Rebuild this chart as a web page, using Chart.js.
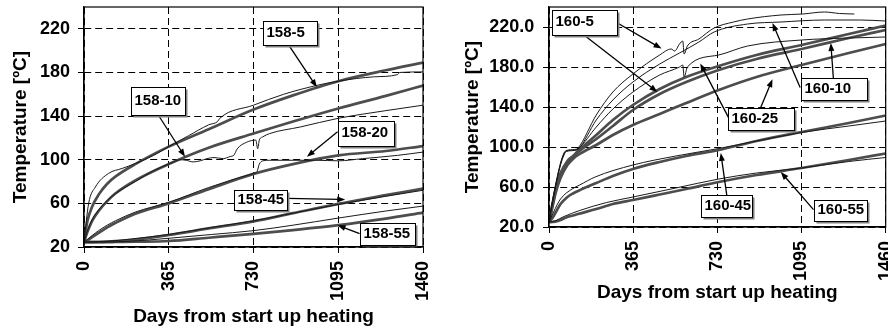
<!DOCTYPE html>
<html>
<head>
<meta charset="utf-8">
<script src="https://cdn.jsdelivr.net/npm/chart.js@4"></script>
<style>
  html, body { margin: 0; padding: 0; background: #fff; overflow: hidden; }
  canvas { position: absolute; top: 0; }
</style>
</head>
<body>
<canvas id="left" width="444" height="329" style="left:0;width:444px;height:329px"></canvas>
<canvas id="right" width="444" height="329" style="left:444px;width:444px;height:329px"></canvas>
<script>
// ---- data: days from start up heating / temperature in ºC ----
const xTicks = [0, 365, 730, 1095, 1460];
const yTicks = [20, 60, 100, 140, 180, 220];

// Borehole 158, model curves (thick)
const days158Model = [0, 15, 35, 63, 100, 135, 221, 365, 537, 730, 900, 1095, 1300, 1460];
const t158_5Model  = [24.5, 44, 57, 68, 78, 84.5, 96, 112, 128, 146, 159, 172, 182, 189];
const t158_10Model = [24.5, 34, 44, 53, 62, 69, 81, 96, 111, 124, 135, 147, 158.5, 168];
const t158_20Model = [24.5, 26, 29, 33, 38, 42, 50.5, 60, 73, 87, 96, 104, 108, 112.5];
const t158_45Model = [24.5, 24.5, 24.5, 24.6, 24.9, 25.3, 26.8, 31, 37, 43.5, 51, 59.5, 67.5, 73.5];
const t158_55Model = [24.5, 24.5, 24.5, 24.5, 24.5, 24.6, 24.8, 25.5, 28.5, 32, 35.5, 40, 46, 51.5];

// Borehole 158, measured (thin)
const days158_5  = [0, 20, 49, 106, 164, 221, 300, 365, 450, 537, 575, 585, 730, 860, 1000, 1095, 1250, 1350, 1360, 1460];
const t158_5     = [24.5, 60, 75, 87.5, 92, 96.5, 104, 112, 122, 132, 135, 138, 150, 160, 168, 172, 176, 178, 180, 180.5];
const days158_10 = [0, 15, 35, 63, 100, 135, 221, 300, 365, 414, 440, 470, 500, 530, 560, 600, 630, 645, 660, 700, 740, 748, 755, 770, 800, 931, 1096, 1300, 1460];
const t158_10    = [24.5, 35, 45, 54, 62.5, 69, 80, 90, 96, 100, 99.5, 98, 99, 101, 102, 101, 103, 104, 110, 116, 118, 110, 118, 121, 124, 130, 138, 145, 150];
const days158_20 = [0, 15, 35, 63, 100, 135, 221, 365, 537, 730, 745, 755, 770, 800, 900, 1000, 1095, 1200, 1350, 1460];
const t158_20    = [24.5, 27, 30.5, 35, 40, 44, 52, 61, 74.5, 87.5, 89, 96, 99, 99.5, 99.5, 99.5, 99, 101, 104, 107];
const days158_45 = [0, 100, 200, 365, 550, 730, 900, 1095, 1300, 1460];
const t158_45    = [24.5, 25.2, 27.3, 31.5, 38, 44, 51, 59, 66.5, 72];
const days158_55 = [0, 100, 200, 365, 550, 730, 900, 1095, 1300, 1460];
const t158_55    = [24.5, 24.6, 25.3, 28, 31.5, 35, 40, 46.5, 53, 57.5];

// Borehole 160, model curves (thick)
const days160Model = [0, 15, 30, 50, 80, 104, 126, 205, 277, 364, 480, 595, 736, 900, 1095, 1300, 1460];
const t160_5Model  = [24.7, 43, 59, 74, 86, 91, 96, 112, 127, 142, 158, 170, 181, 192, 202, 213, 221.5];
const t160_10Model = [24.7, 42, 57, 72, 85, 90, 95, 108, 121, 137, 153, 165, 177, 188, 198, 209, 217];
const t160_25Model = [24.7, 40, 55, 69, 82, 88, 92, 102, 112, 122, 133, 144, 157, 170, 182, 194, 203];
const t160_45Model = [24.7, 29, 35, 43, 50, 53.5, 56, 64, 71, 78, 85, 91, 97, 106, 115, 124, 131.5];
const t160_55Model = [24.7, 25, 25.5, 27, 30, 31.5, 33, 38, 43, 47, 52.5, 58, 65, 72, 79, 87, 93.5];

// Borehole 160, measured (thin)
const days160_5  = [0, 15, 30, 50, 65, 75, 110, 126, 205, 277, 364, 480, 530, 545, 566, 580, 586, 600, 650, 716, 800, 861, 1006, 1100, 1194, 1260, 1324];
const t160_5     = [24.7, 46, 64, 84, 94, 96.5, 97.5, 99, 132, 155, 173, 192, 198, 196, 203, 206, 193, 201, 208, 219, 225, 228, 232, 233, 235, 233.5, 233];
const days160_10 = [0, 15, 30, 50, 65, 75, 110, 126, 205, 277, 364, 480, 566, 650, 716, 861, 1006, 1194, 1350, 1460];
const t160_10    = [24.7, 45, 63, 83, 93, 96, 97, 98, 127, 147, 165, 183, 194, 205, 215, 223, 225, 227, 227, 226];
const days160_25 = [0, 15, 30, 50, 65, 75, 110, 126, 205, 277, 364, 480, 566, 580, 586, 600, 736, 861, 1095, 1300, 1460];
const t160_25    = [24.7, 44, 62, 82, 92, 95.5, 96.5, 98, 120, 138, 155, 172, 180, 182, 170, 180, 192, 201, 207, 209, 210];
const days160_45 = [0, 20, 50, 100, 133, 200, 364, 550, 736, 900, 1095, 1300, 1460];
const t160_45    = [24.7, 35, 48, 58, 62, 70, 82, 91, 98.5, 106, 114.5, 121, 126];
const days160_55 = [0, 30, 60, 133, 250, 364, 550, 736, 900, 1095, 1300, 1460];
const t160_55    = [24.7, 26.5, 30, 36.5, 44.5, 50, 59, 68, 74, 79, 85.5, 89.5];

// labelled callouts, in days / ºC
const callouts158 = [
  { text: '158-5',  x0: 773,  x1: 1003, y0: 227.6, y1: 205.3, arrows: [[881, 205.3, 1003, 166.4]] },
  { text: '158-10', x0: 201,  x1: 435,  y0: 166.4, y1: 141,   arrows: [[320, 141, 435, 102.7]] },
  { text: '158-20', x0: 1092, x1: 1333, y0: 135.8, y1: 112.8, arrows: [[1092, 125.6, 960, 102.7]] },
  { text: '158-45', x0: 644,  x1: 876,  y0: 72.7,  y1: 53.7,  arrows: [[876, 64.5, 1125, 63.5]] },
  { text: '158-55', x0: 1187, x1: 1427, y0: 42,    y1: 21.6,  arrows: [[1187, 32.3, 1092, 40]] }
];
const callouts160 = [
  { text: '160-5',  x0: 11,   x1: 297,  y0: 237.4, y1: 211.7, arrows: [[297, 224, 488, 198.4], [153, 211.7, 470, 155]] },
  { text: '160-10', x0: 1092, x1: 1378, y0: 169,   y1: 147.4, arrows: [[1089, 159.4, 969, 224], [1233, 169, 1222, 204]] },
  { text: '160-25', x0: 777,  x1: 1063, y0: 139.4, y1: 117.4, arrows: [[781, 128.4, 656, 183.4], [918, 139.4, 969, 167.7]] },
  { text: '160-45', x0: 659,  x1: 882,  y0: 51.7,  y1: 30,    arrows: [[771, 51.7, 745, 94]] },
  { text: '160-55', x0: 1147, x1: 1378, y0: 47.4,  y1: 26,    arrows: [[1147, 37.4, 1005, 75]] }
];

const FONT = "'Liberation Sans', Arial, Helvetica, sans-serif";

// draws the text boxes with their arrows
const calloutPlugin = {
  id: 'callouts',
  afterDatasetsDraw(chart, args, opts) {
    const ctx = chart.ctx;
    const xs = chart.scales.x, ys = chart.scales.y;
    ctx.save();
    opts.items.forEach(c => {
      // arrows first
      c.arrows.forEach(a => {
        const x1 = xs.getPixelForValue(a[0]), y1 = ys.getPixelForValue(a[1]);
        const x2 = xs.getPixelForValue(a[2]), y2 = ys.getPixelForValue(a[3]);
        const ang = Math.atan2(y2 - y1, x2 - x1);
        const c0 = Math.cos(ang), s0 = Math.sin(ang);
        ctx.strokeStyle = '#000';
        ctx.fillStyle = '#000';
        ctx.lineWidth = 1.3;
        ctx.beginPath();
        ctx.moveTo(x1, y1);
        ctx.lineTo(x2 - 6 * c0, y2 - 6 * s0);
        ctx.stroke();
        ctx.beginPath();
        ctx.moveTo(x2, y2);
        ctx.lineTo(x2 - 8 * c0 + 3 * s0, y2 - 8 * s0 - 3 * c0);
        ctx.lineTo(x2 - 8 * c0 - 3 * s0, y2 - 8 * s0 + 3 * c0);
        ctx.closePath();
        ctx.fill();
      });
      const l = Math.round(xs.getPixelForValue(c.x0)) + 0.5;
      const r = Math.round(xs.getPixelForValue(c.x1)) + 0.5;
      const t = Math.round(ys.getPixelForValue(c.y0)) + 0.5;
      const b = Math.round(ys.getPixelForValue(c.y1)) + 0.5;
      // shadow
      ctx.fillStyle = '#808080';
      ctx.fillRect(l + 2, t + 2, r - l, b - t);
      ctx.fillStyle = '#fff';
      ctx.fillRect(l, t, r - l, b - t);
      ctx.strokeStyle = '#000';
      ctx.lineWidth = 1;
      ctx.strokeRect(l, t, r - l, b - t);
      ctx.fillStyle = '#000';
      ctx.font = 'bold 15px ' + FONT;
      ctx.textAlign = 'left';
      ctx.textBaseline = 'middle';
      ctx.fillText(c.text, l + 3, (t + b) / 2 - 1);
    });
    ctx.restore();
  }
};

// solid frame round the plot area
const framePlugin = {
  id: 'frame',
  afterDraw(chart) {
    const a = chart.chartArea;
    const ctx = chart.ctx;
    ctx.save();
    ctx.strokeStyle = '#000';
    ctx.lineWidth = 1.2;
    ctx.strokeRect(a.left, a.top, a.right - a.left, a.bottom - a.top);
    ctx.restore();
  }
};

function line(days, temps, thick) {
  return {
    data: days.map((d, i) => ({ x: d, y: temps[i] })),
    borderColor: thick ? '#4d4d4d' : '#1a1a1a',
    borderWidth: thick ? 2.7 : 1,
    pointRadius: 0,
    cubicInterpolationMode: 'monotone',
    fill: false,
    order: thick ? 2 : 1
  };
}

function makeChart(id, datasets, callouts, lay) {
  const ctx = document.getElementById(id).getContext('2d');
  return new Chart(ctx, {
    type: 'line',
    data: { datasets: datasets },
    options: {
      responsive: false,
      animation: false,
      layout: { padding: { top: 7, right: lay.right, bottom: lay.bottom, left: 0 } },
      plugins: {
        legend: { display: false },
        tooltip: { enabled: false },
        callouts: { items: callouts }
      },
      scales: {
        x: {
          type: 'linear',
          min: 0,
          max: 1460,
          afterBuildTicks: s => { s.ticks = xTicks.map(v => ({ value: v })); },
          afterFit: s => { s.height = lay.xHeight; s.paddingLeft = 0; s.paddingRight = 0; },
          ticks: {
            minRotation: 90, maxRotation: 90, autoSkip: false, padding: 8,
            color: '#000', font: { family: FONT, size: 18, weight: 'bold' },
            callback: v => String(v)
          },
          grid: { color: '#000', lineWidth: 1, tickLength: 6, tickColor: '#000', tickBorderDash: [] },
          border: { color: '#000', width: 1.2, dash: [7, 4] },
          title: {
            display: true, text: 'Days from start up heating', color: '#000',
            font: { family: FONT, size: 19, weight: 'bold' }, padding: { top: 0, bottom: 1 }
          }
        },
        y: {
          type: 'linear',
          min: 20,
          max: 240,
          afterBuildTicks: s => { s.ticks = yTicks.map(v => ({ value: v })); },
          afterFit: s => { s.width = lay.yWidth; s.paddingTop = 0; s.paddingBottom = 0; },
          ticks: {
            padding: lay.yPad, color: '#000', font: { family: FONT, size: 18, weight: 'bold' },
            callback: v => lay.decimals ? v.toFixed(1) : String(v)
          },
          grid: { color: '#000', lineWidth: 1, tickLength: 6, tickColor: '#000', tickBorderDash: [] },
          border: { color: '#000', width: 1.2, dash: [7, 4] },
          title: {
            display: true, text: 'Temperature [ºC]', color: '#000',
            font: { family: FONT, size: 19, weight: 'bold' }, padding: { top: lay.titlePad, bottom: 0 }
          }
        }
      }
    },
    plugins: [calloutPlugin, framePlugin]
  });
}

makeChart('left', [
  line(days158Model, t158_5Model, true),
  line(days158Model, t158_10Model, true),
  line(days158Model, t158_20Model, true),
  line(days158Model, t158_45Model, true),
  line(days158Model, t158_55Model, true),
  line(days158_5, t158_5, false),
  line(days158_10, t158_10, false),
  line(days158_20, t158_20, false),
  line(days158_45, t158_45, false),
  line(days158_55, t158_55, false)
], callouts158, { right: 21, bottom: 0, xHeight: 82, yWidth: 84, yPad: 8, titlePad: 9.6, decimals: false });

makeChart('right', [
  line(days160Model, t160_5Model, true),
  line(days160Model, t160_10Model, true),
  line(days160Model, t160_25Model, true),
  line(days160Model, t160_45Model, true),
  line(days160Model, t160_55Model, true),
  line(days160_5, t160_5, false),
  line(days160_10, t160_10, false),
  line(days160_25, t160_25, false),
  line(days160_45, t160_45, false),
  line(days160_55, t160_55, false)
], callouts160, { right: 2.3, bottom: 24, xHeight: 78, yWidth: 105, yPad: 8.7, titlePad: 16.9, decimals: true });
</script>
</body>
</html>
